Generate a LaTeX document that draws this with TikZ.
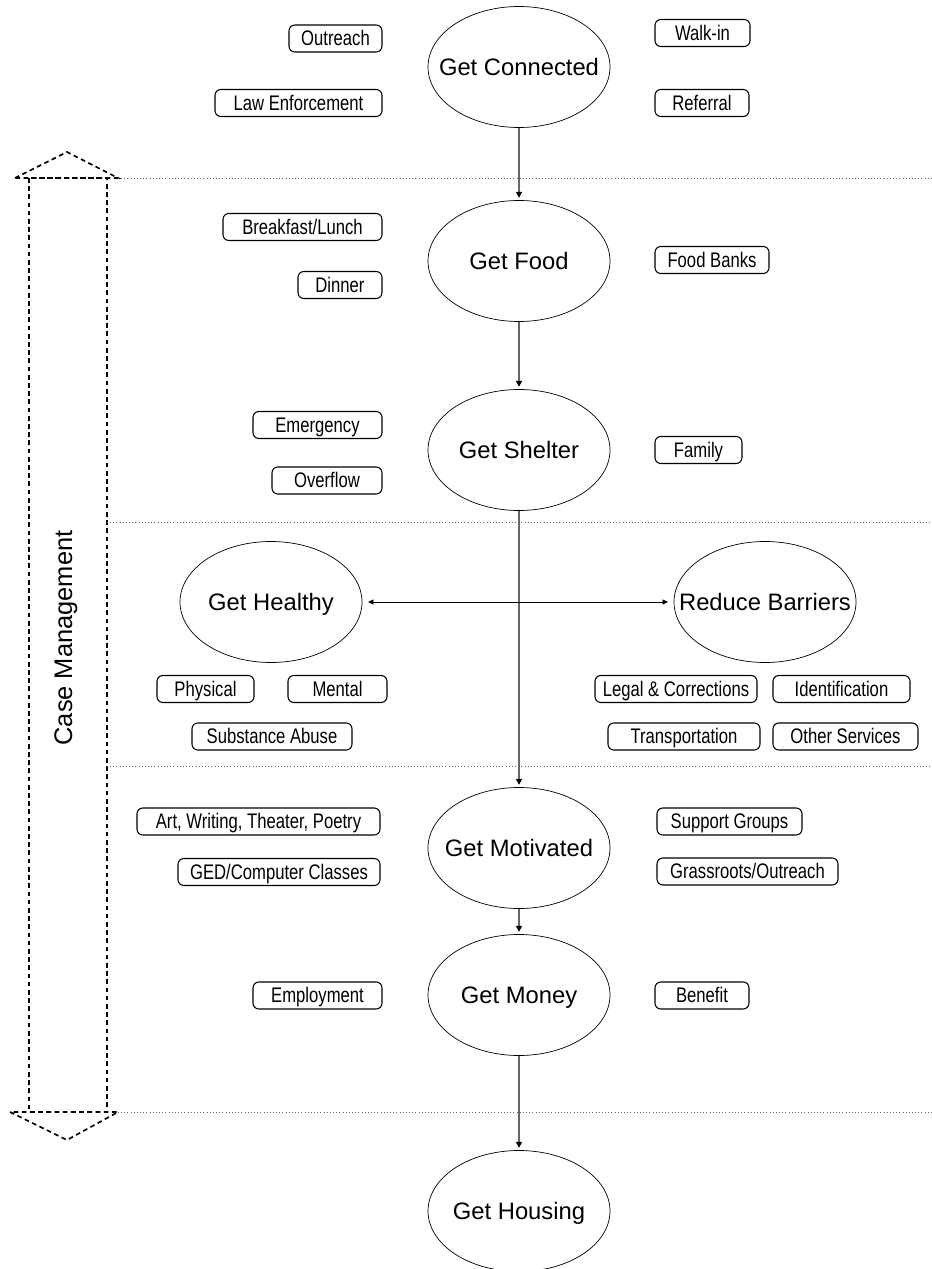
\documentclass[tikz,border=0pt]{standalone}
\usepackage{fontspec}
\setmainfont{Liberation Sans}
\newfontfamily\condfont[FakeStretch=0.79]{Liberation Sans}
\usetikzlibrary{shapes.geometric,arrows.meta}
\newcommand\goaltext[1]{\makebox[0pt]{#1}}

\begin{document}
\begin{tikzpicture}[x=0.03cm,y=-0.03cm,
  goal/.style={ellipse,draw,line width=0.6pt,minimum width=182*0.03cm,minimum height=121*0.03cm,
    inner sep=0pt,text height=14.5pt,text depth=0pt,font=\fontsize{20.3}{24}\selectfont},
  svc/.style={draw,rounded corners=5pt,line width=0.9pt,minimum width=#1*0.03cm,minimum height=27*0.03cm,
    inner sep=0pt,text height=12.9pt,text depth=0.5pt,font=\condfont\fontsize{18}{20}\selectfont},
  flow/.style={draw=black!60,line width=1.1pt,shorten >=2pt,-{Triangle[length=5pt,width=5pt,color=black]}},
  sep/.style={draw=black!60,dotted,line width=0.7pt},
  casearrow/.style={dashed,line width=1.4pt,dash pattern=on 4pt off 3pt}]

\useasboundingbox (0,0) rectangle (932,1269);

\draw[casearrow] (15,178) -- (67,152) -- (118,178) -- cycle;
\draw[casearrow] (29,178) rectangle (107,1112);
\draw[casearrow] (10,1112) -- (67,1140) -- (118,1112) -- cycle;
\node[rotate=90,font=\fontsize{21.7}{26}\selectfont] (casemgmt) at (66,638) {Case Management};

\draw[sep] (118,178) -- (932,178);
\draw[sep] (107,522) -- (932,522);
\draw[sep] (107,766) -- (932,766);
\draw[sep] (118,1112) -- (932,1112);

\node[goal] (con) at (519,67) {\goaltext{Get Connected}};
\node[goal] (food) at (519,261) {\goaltext{Get Food}};
\node[goal] (shelter) at (519,450) {\goaltext{Get Shelter}};
\node[goal] (healthy) at (271,602) {\goaltext{Get Healthy}};
\node[goal] (barriers) at (765,602) {\goaltext{Reduce Barriers}};
\node[goal] (motiv) at (519,848) {\goaltext{Get Motivated}};
\node[goal] (money) at (519,995) {\goaltext{Get Money}};
\node[goal] (housing) at (519,1211) {\goaltext{Get Housing}};

\node[svc=93] (outreach) at (335.5,38.5) {Outreach};
\node[svc=167] (lawenf) at (298.5,103) {Law Enforcement};
\node[svc=95] (walkin) at (702.5,33) {Walk-in};
\node[svc=94] (referral) at (702,103) {Referral};

\node[svc=159] (meals) at (302.5,227) {Breakfast/Lunch};
\node[svc=84] (dinner) at (340,285) {Dinner};
\node[svc=114] (foodbanks) at (712,260) {Food Banks};

\node[svc=129] (emergency) at (317.5,425) {Emergency};
\node[svc=110] (overflow) at (327,480.5) {Overflow};
\node[svc=87] (family) at (698.5,450) {Family};

\node[svc=97] (physical) at (205.5,689) {Physical};
\node[svc=99] (mental) at (337.5,689) {Mental};
\node[svc=160] (substance) at (272,736.5) {Substance Abuse};
\node[svc=162] (legal) at (676,689) {Legal \& Corrections};
\node[svc=137] (ident) at (841.5,689) {Identification};
\node[svc=152] (transport) at (684,736.5) {Transportation};
\node[svc=145] (other) at (845.5,736.5) {Other Services};

\node[svc=243] (arts) at (258.5,821.5) {Art, Writing, Theater, Poetry};
\node[svc=202] (ged) at (279,872) {GED/Computer Classes};
\node[svc=145] (support) at (729.5,821.5) {Support Groups};
\node[svc=181] (grassroots) at (747.5,871.5) {Grassroots/Outreach};

\node[svc=129] (employ) at (317.5,995.5) {Employment};
\node[svc=94] (benefit) at (702,995.5) {Benefit};

\draw[flow] (con) -- (food);
\draw[flow] (food) -- (shelter);
\draw[flow] (shelter) -- (motiv);
\draw[flow] (motiv) -- (money);
\draw[flow] (money) -- (housing);
\draw[line width=0.6pt,shorten >=5pt,shorten <=5pt,{Triangle[length=4.5pt,width=4.5pt]}-{Triangle[length=4.5pt,width=4.5pt]}] (healthy) -- (barriers);

\end{tikzpicture}
\end{document}
